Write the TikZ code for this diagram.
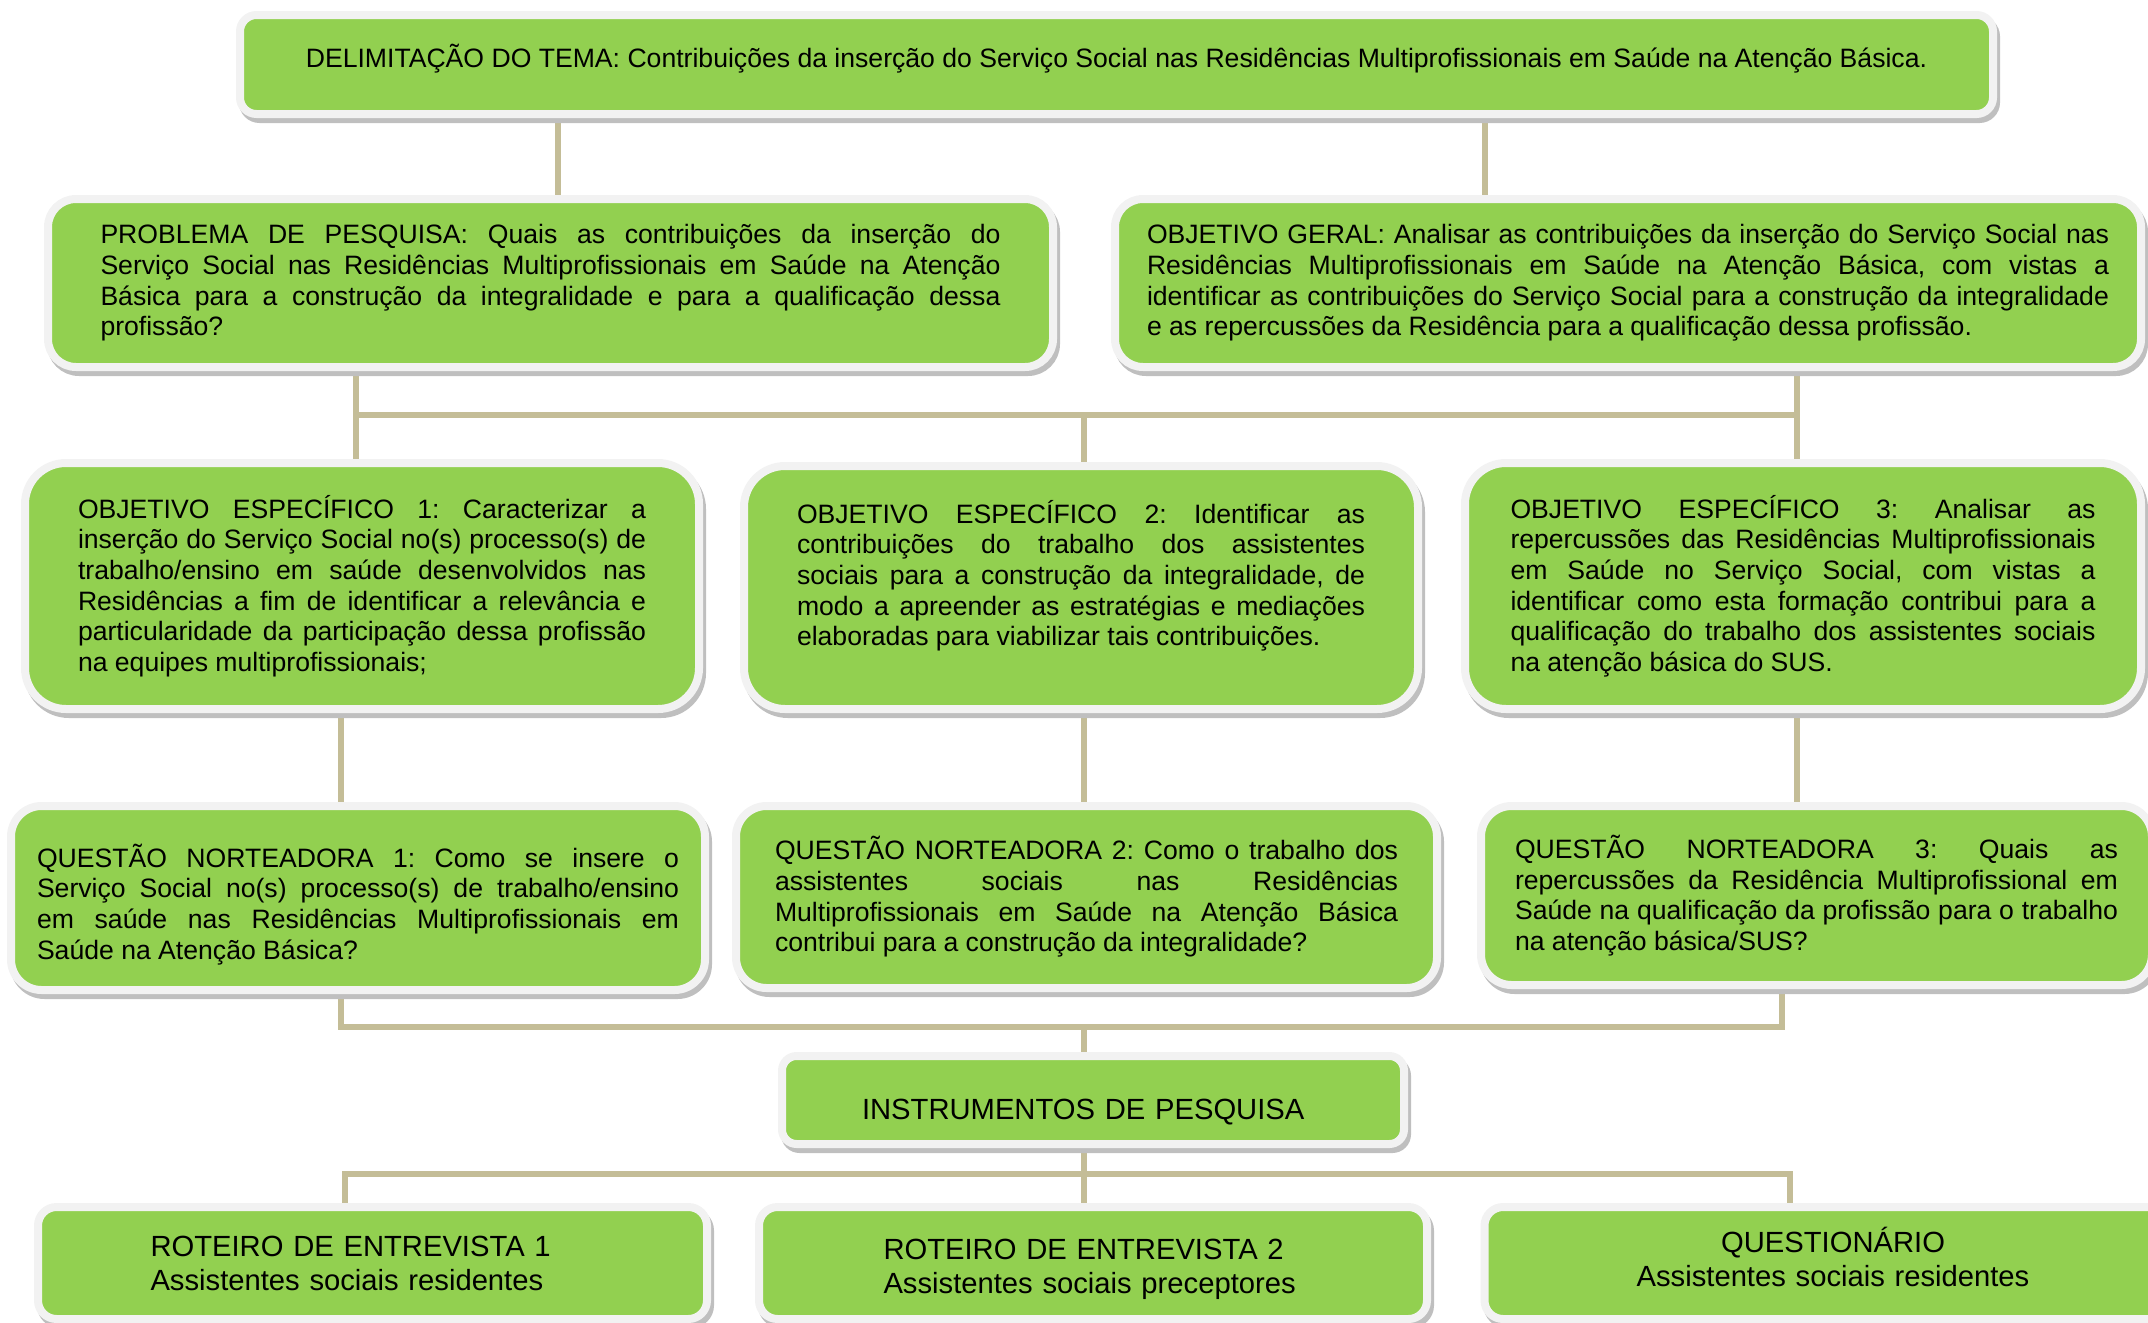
\documentclass[tikz,border=0pt]{standalone}
\usepackage{fontspec}
\setmainfont{Liberation Sans}
\usepackage{xcolor}
\usepackage{tikz}
\usetikzlibrary{shadows, backgrounds}
\definecolor{boxgreen}{HTML}{92D050}
\definecolor{boxframe}{HTML}{F2F2F2}
\definecolor{boxshadow}{HTML}{BFBFBF}
\definecolor{linktan}{HTML}{C4BD97}
\hyphenpenalty=10000
\exhyphenpenalty=10000
\frenchspacing
\tikzset{
  resbox/.style={
    rectangle, draw=boxframe, line width=4pt, fill=boxgreen, rounded corners=#1,
    inner sep=0pt, align=justify, font=\fontsize{13.3pt}{15.3pt}\selectfont,
    drop shadow={shadow xshift=1.5pt, shadow yshift=-2.5pt, fill=boxshadow,
      draw=boxshadow, line width=4pt, opacity=1}
  },
  resbox/.default=14pt,
  toolbox/.style={
    resbox=#1, align=left, font=\fontsize{14.6pt}{17pt}\selectfont
  },
  toolbox/.default=9.3pt,
  link/.style={
    draw=linktan, line width=2.75pt
  }
}

\begin{document}
\frenchspacing
\begin{tikzpicture}[x=0.5pt, y=-0.5pt]
  \useasboundingbox (0,0) rectangle (2148,1323);

  \node[resbox=8.25pt, minimum width=876.5pt, minimum height=49.5pt, align=center,
    text height=9.5pt, text depth=7pt] (tema) at (1116.5,64.5)
    {DELIMITAÇÃO DO TEMA: Contribuições da inserção do Serviço Social nas Residências Multiprofissionais em Saúde na Atenção Básica.};

  \node[resbox, minimum width=502.5pt, minimum height=84pt, text width=450pt] (problema) at (550.5,283)
    {PROBLEMA DE PESQUISA: Quais as contribuições da inserção do\linebreak
     Serviço Social nas Residências Multiprofissionais em Saúde na Atenção\linebreak
     Básica para a construção da integralidade e para a qualificação dessa\linebreak
     profissão?};
  \node[resbox, minimum width=513pt, minimum height=84pt, text width=481pt] (objgeral) at (1628,283)
    {OBJETIVO GERAL: Analisar as contribuições da inserção do Serviço Social nas\linebreak
     Residências Multiprofissionais em Saúde na Atenção Básica, com vistas a\linebreak
     identificar as contribuições do Serviço Social para a construção da integralidade\linebreak
     e as repercussões da Residência para a qualificação dessa profissão.};

  \node[resbox=20.5pt, minimum width=337pt, minimum height=123pt, text width=284pt] (espec1) at (362,586)
    {OBJETIVO ESPECÍFICO 1: Caracterizar a\linebreak
     inserção do Serviço Social no(s) processo(s) de\linebreak
     trabalho/ensino em saúde desenvolvidos nas\linebreak
     Residências a fim de identificar a relevância e\linebreak
     particularidade da participação dessa profissão\linebreak
     na equipes multiprofissionais;};
  \node[resbox=20.5pt, minimum width=337pt, minimum height=121.5pt, text width=284pt,
    text height=10pt, text depth=74.2pt] (espec2) at (1081,587.5)
    {OBJETIVO ESPECÍFICO 2: Identificar as\linebreak
     contribuições do trabalho dos assistentes\linebreak
     sociais para a construção da integralidade, de\linebreak
     modo a apreender as estratégias e mediações\linebreak
     elaboradas para viabilizar tais contribuições.};
  \node[resbox=20.5pt, minimum width=338pt, minimum height=123pt, text width=292.5pt] (espec3) at (1803,586)
    {OBJETIVO ESPECÍFICO 3: Analisar as\linebreak
     repercussões das Residências Multiprofissionais\linebreak
     em Saúde no Serviço Social, com vistas a\linebreak
     identificar como esta formação contribui para a\linebreak
     qualificação do trabalho dos assistentes sociais\linebreak
     na atenção básica do SUS.};

  \node[resbox=15.3pt, minimum width=347pt, minimum height=92pt, text width=321pt,
    text height=10pt, text depth=40.8pt] (questao1) at (358,898)
    {QUESTÃO NORTEADORA 1: Como se insere o\linebreak
     Serviço Social no(s) processo(s) de trabalho/ensino\linebreak
     em saúde nas Residências Multiprofissionais em\linebreak
     Saúde na Atenção Básica?};
  \node[resbox=15.3pt, minimum width=350.5pt, minimum height=91pt, text width=311.5pt] (questao2) at (1086.5,897)
    {QUESTÃO NORTEADORA 2: Como o trabalho dos\linebreak
     assistentes sociais nas Residências\linebreak
     Multiprofissionais em Saúde na Atenção Básica\linebreak
     contribui para a construção da integralidade?};
  \node[resbox=15.3pt, minimum width=335.5pt, minimum height=89.5pt, text width=301.5pt] (questao3) at (1816.5,895.5)
    {QUESTÃO NORTEADORA 3: Quais as\linebreak
     repercussões da Residência Multiprofissional em\linebreak
     Saúde na qualificação da profissão para o trabalho\linebreak
     na atenção básica/SUS?};

  \node[toolbox=7.3pt, minimum width=311pt, minimum height=44pt, text width=231pt,
    text height=22pt, text depth=3pt] (instrum) at (1093,1100)
    {INSTRUMENTOS DE PESQUISA};

  \node[toolbox, minimum width=334.5pt, minimum height=56pt, text width=222pt,
    text height=10pt, text depth=16.8pt] (roteiro1) at (372.5,1263)
    {ROTEIRO DE ENTREVISTA 1\\Assistentes sociais residentes};
  \node[toolbox, minimum width=334pt, minimum height=56pt, text width=209.5pt,
    text height=10pt, text depth=14pt] (roteiro2) at (1093,1263)
    {ROTEIRO DE ENTREVISTA 2\\Assistentes sociais preceptores};
  \node[toolbox, minimum width=348.5pt, minimum height=56pt, text width=210pt, align=center,
    text height=10pt, text depth=20.9pt] (questionario) at (1833,1263)
    {QUESTIONÁRIO\\Assistentes sociais residentes};

  \coordinate (busA) at (1084,415);
  \coordinate (busB) at (1084,1027);
  \coordinate (busC) at (1084,1174);

  \begin{scope}[on background layer]
    \draw[link] (tema.south -| 558,0) -- (problema.north -| 558,0);
    \draw[link] (tema.south -| 1485,0) -- (objgeral.north -| 1485,0);

    \draw[link] (problema.south -| 356,0) -- (espec1.north -| 356,0);
    \draw[link] (objgeral.south -| 1797,0) -- (espec3.north -| 1797,0);
    \draw[link] (busA -| 356,0) -- (busA -| 1797,0);
    \draw[link] (busA) -- (espec2.north -| busA);

    \draw[link] (espec1.south -| 341,0) -- (questao1.north -| 341,0);
    \draw[link] (espec2.south -| 1084,0) -- (questao2.north -| 1084,0);
    \draw[link] (espec3.south -| 1797,0) -- (questao3.north -| 1797,0);

    \draw[link] (questao1.south -| 341,0) |- (busB) -| (questao3.south -| 1782,0);
    \draw[link] (busB) -- (instrum.north -| busB);

    \draw[link] (instrum.south -| busC) -- (roteiro2.north -| busC);
    \draw[link] (roteiro1.north -| 345,0) |- (busC) -| (questionario.north -| 1790,0);
  \end{scope}
\end{tikzpicture}
\end{document}
